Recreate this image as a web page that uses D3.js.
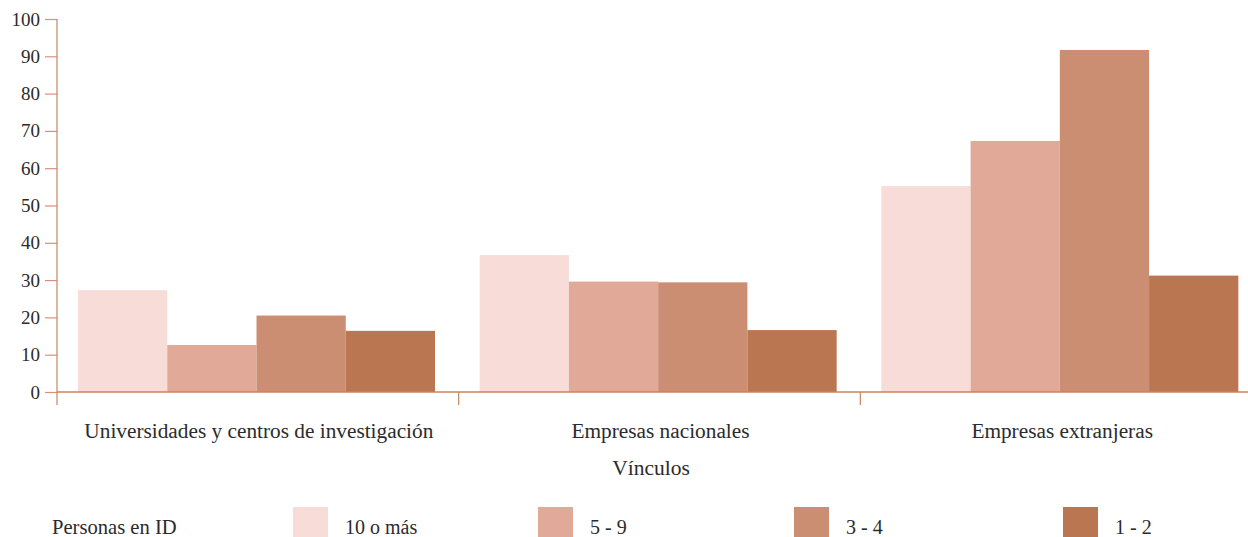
<!DOCTYPE html>
<html>
<head>
<meta charset="utf-8">
<script src="https://cdn.jsdelivr.net/npm/d3@7"></script>
<style>
  html, body { margin: 0; padding: 0; background: #ffffff; }
  svg { display: block; }
</style>
</head>
<body>
<svg id="chart" width="1248" height="537"></svg>
<script>
// Vínculos por tamaño del equipo de I+D
const categories = ["Universidades y centros de investigación", "Empresas nacionales", "Empresas extranjeras"];
const seriesNames = ["10 o más", "5 - 9", "3 - 4", "1 - 2"];
const seriesColors = ["#f8dcd8", "#e1a998", "#cb8e73", "#b97650"];
const values10mas = [27.3, 36.7, 55.2];
const values5a9 = [12.6, 29.6, 67.3];
const values3a4 = [20.5, 29.4, 91.7];
const values1a2 = [16.4, 16.6, 31.2];
const yTicks = [0, 10, 20, 30, 40, 50, 60, 70, 80, 90, 100];
const xTitle = "Vínculos";
const legendTitle = "Personas en ID";

const seriesValues = [values10mas, values5a9, values3a4, values1a2];
const rows = categories.map((c, i) => ({
  category: c,
  values: seriesNames.map((s, j) => ({ series: s, value: seriesValues[j][i] }))
}));

const serif = "'Liberation Serif', serif";
const textColor = "#2b2b2b";

const svg = d3.select("#chart");
const axisColor = "#c9855e";
const tickColor = "#d8907a";

const x0 = d3.scaleBand().domain(categories).range([57, 1262]).padding(0);
const x1 = d3.scaleBand().domain(seriesNames).range([21, 378]).padding(0);
const y = d3.scaleLinear().domain([0, 100]).range([392, 19]);
const color = d3.scaleOrdinal().domain(seriesNames).range(seriesColors);

// bars
const groups = svg.append("g").selectAll("g")
  .data(rows).join("g")
  .attr("transform", d => `translate(${x0(d.category)},0)`);

groups.selectAll("rect")
  .data(d => d.values).join("rect")
  .attr("x", d => x1(d.series))
  .attr("width", x1.bandwidth())
  .attr("y", d => y(d.value))
  .attr("height", d => y(0) - y(d.value))
  .attr("fill", d => color(d.series));

function label(sel, size) {
  return sel.attr("fill", textColor)
    .attr("font-family", null)
    .style("font-family", serif)
    .style("font-size", (size || 20) + "px");
}

// y axis
const yAxis = svg.append("g")
  .attr("transform", "translate(57,0)")
  .call(d3.axisLeft(y).tickValues(yTicks).tickSize(12).tickPadding(5));
yAxis.attr("font-family", null).attr("font-size", null);
yAxis.select(".domain").remove();
yAxis.selectAll(".tick line").attr("stroke", tickColor).attr("stroke-width", 1.2);
yAxis.selectAll(".tick text").call(label, 19);

svg.append("line")
  .attr("x1", 57).attr("x2", 57)
  .attr("y1", y(100)).attr("y2", 405)
  .attr("stroke", axisColor).attr("stroke-width", 1.2);

// x axis baseline and category separators
svg.append("line")
  .attr("x1", 57).attr("x2", 1248)
  .attr("y1", y(0)).attr("y2", y(0))
  .attr("stroke", axisColor).attr("stroke-width", 1.4);

svg.append("g").selectAll("line")
  .data(categories.slice(1)).join("line")
  .attr("x1", d => x0(d)).attr("x2", d => x0(d))
  .attr("y1", y(0)).attr("y2", 405)
  .attr("stroke", axisColor).attr("stroke-width", 1.2);

// category labels
svg.append("g").selectAll("text")
  .data(categories).join("text")
  .attr("x", d => x0(d) + x0.bandwidth() / 2 + 1)
  .attr("y", 438)
  .attr("text-anchor", "middle")
  .call(label, 21.3)
  .text(d => d);

svg.append("text")
  .attr("x", 651).attr("y", 475)
  .attr("text-anchor", "middle")
  .call(label, 21.5)
  .text(xTitle);

// legend
svg.append("text")
  .attr("x", 52).attr("y", 534)
  .call(label, 20.6)
  .text(legendTitle);

const legendX = [293, 538, 794, 1063];
const legend = svg.append("g").selectAll("g")
  .data(seriesNames).join("g")
  .attr("transform", (d, i) => `translate(${legendX[i]},0)`);
legend.append("rect")
  .attr("x", 0).attr("y", 507)
  .attr("width", 35).attr("height", 32)
  .attr("fill", d => color(d));
legend.append("text")
  .attr("x", 52)
  .attr("y", 534)
  .call(label, 20)
  .text(d => d);
</script>
</body>
</html>
